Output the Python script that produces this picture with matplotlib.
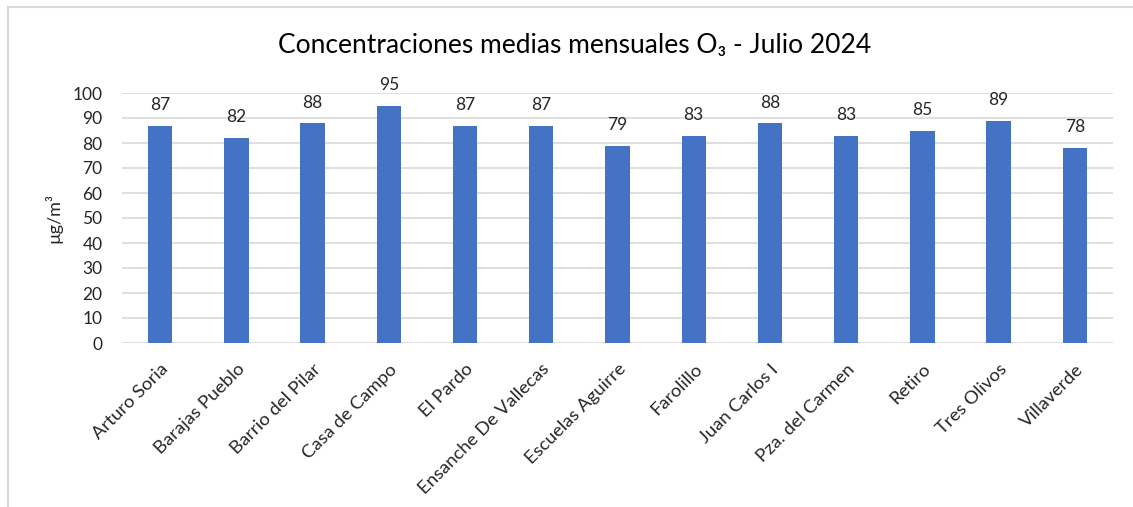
import matplotlib
matplotlib.use('Agg')
import matplotlib.pyplot as plt
import numpy as np

plt.rcParams['font.family'] = ['Lato', 'DejaVu Sans']

estaciones = ['Arturo Soria', 'Barajas Pueblo', 'Barrio del Pilar', 'Casa de Campo',
              'El Pardo', 'Ensanche De Vallecas', 'Escuelas Aguirre', 'Farolillo',
              'Juan Carlos I', 'Pza. del Carmen', 'Retiro', 'Tres Olivos', 'Villaverde']
valores = [87, 82, 88, 95, 87, 87, 79, 83, 88, 83, 85, 89, 78]
yticks = list(range(0, 101, 10))

fig = plt.figure(figsize=(11.33, 5.07), dpi=100)
ax = fig.add_axes([122 / 1133, 1 - 343 / 507, (1113 - 122) / 1133, 250 / 507])

x = np.arange(len(estaciones))
ax.bar(x, valores, width=0.32, color='#4472C4', zorder=3)
for xi, v in zip(x, valores):
    ax.annotate(str(v), (xi, v), xytext=(0, 9), textcoords='offset points',
                ha='center', va='bottom', fontsize=12.5, color='#262626')

ax.set_xlim(-0.5, len(estaciones) - 0.5)
ax.set_ylim(0, 100)
ax.set_yticks(yticks)
ax.yaxis.grid(True, color='#d9d9d9', linewidth=1.2, zorder=0)
for s in ax.spines.values():
    s.set_visible(False)
ax.tick_params(axis='both', length=0, labelsize=12.5, colors='#262626')
ax.tick_params(axis='y', pad=14)
ax.set_xticks(x)
ax.set_xticklabels(estaciones, rotation=45, ha='right', rotation_mode='anchor', fontsize=13.3)
ax.tick_params(axis='x', pad=13)
ax.set_ylabel('µg/m³', fontsize=13, color='#262626', labelpad=7)

fig.text(575 / 1133, 1 - 45 / 507, 'Concentraciones medias mensuales O₃ - Julio 2024',
         ha='center', va='center', fontsize=19, color='#000000')

# marco del gráfico
fig.add_artist(plt.Line2D([8 / 1133, 8 / 1133], [0, 1 - 7 / 507], transform=fig.transFigure,
                          color='#d9d9d9', linewidth=1.5))
fig.add_artist(plt.Line2D([8 / 1133, 1], [1 - 7 / 507, 1 - 7 / 507], transform=fig.transFigure,
                          color='#d9d9d9', linewidth=1.5))

fig.savefig('out.png', dpi=100)
